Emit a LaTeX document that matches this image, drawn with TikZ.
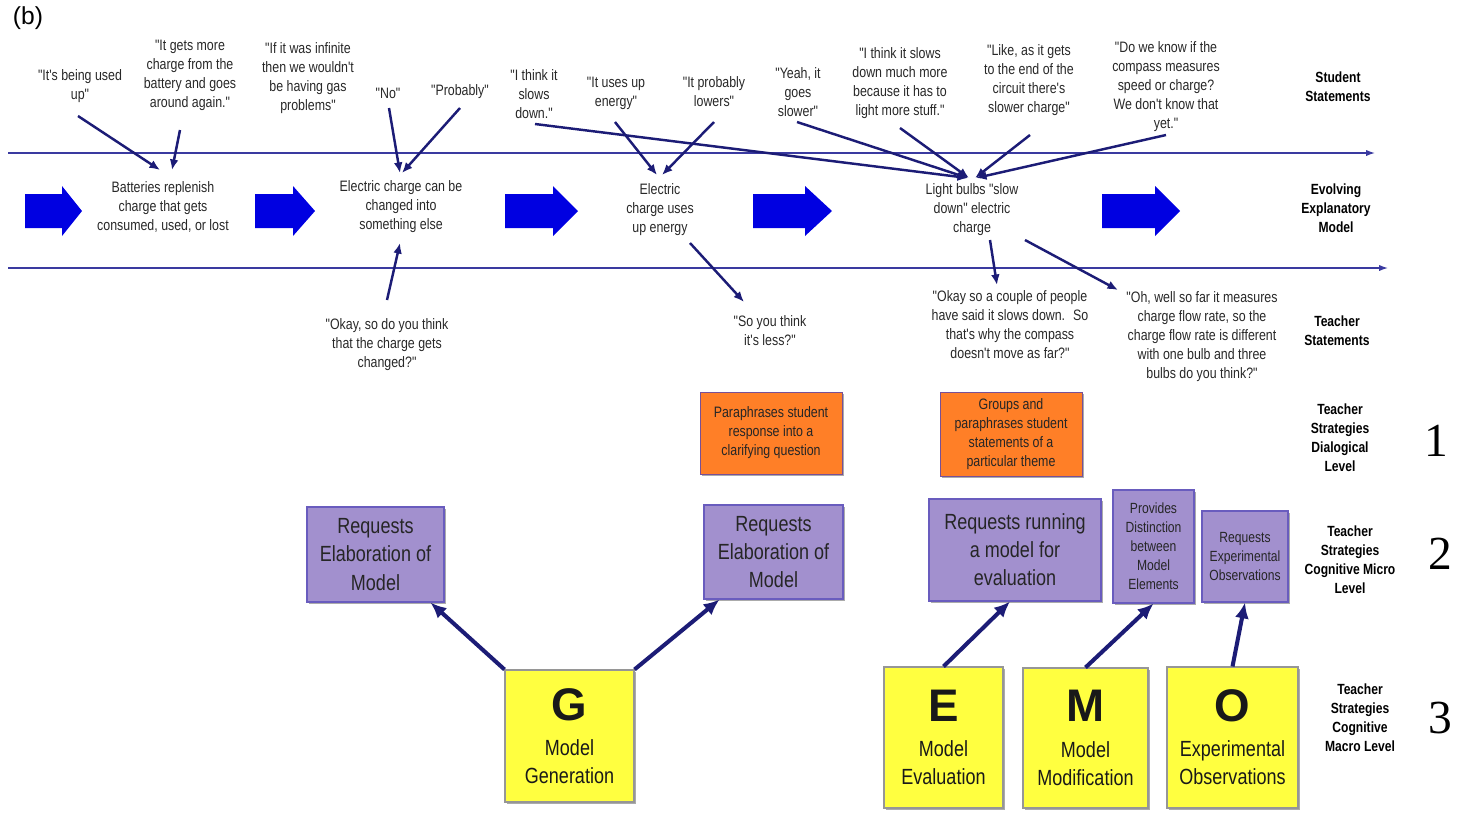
\documentclass[tikz,border=0pt]{standalone}
\usepackage{fontspec}
\setmainfont{Liberation Sans}[FakeStretch=0.82,Ligatures=TeXOff]
\newfontfamily\plainsans{Liberation Sans}
\newfontfamily\numfont{Liberation Serif}
\usetikzlibrary{calc,arrows.meta,shadows}

\definecolor{linenavy}{RGB}{58,58,160}
\definecolor{arrownavy}{RGB}{28,28,118}
\definecolor{bigblue}{RGB}{0,0,225}
\definecolor{boxorange}{RGB}{255,127,39}
\definecolor{orangeedge}{RGB}{120,80,150}
\definecolor{boxpurple}{RGB}{162,144,206}
\definecolor{purpleedge}{RGB}{105,92,190}
\definecolor{boxyellow}{RGB}{255,255,64}
\definecolor{yellowedge}{RGB}{150,150,150}
\definecolor{txtgray}{RGB}{40,40,40}

\begin{document}
\begin{tikzpicture}[x=0.02cm,y=-0.02cm,
  stmt/.style={align=center,inner sep=0pt,text=txtgray,font=\fontsize{8.6}{10.8}\selectfont},
  sidelabel/.style={align=center,inner sep=0pt,font=\fontsize{8.4}{10.8}\selectfont\bfseries},
  levelnum/.style={inner sep=0pt,font=\numfont\fontsize{27}{27}\selectfont},
  talk/.style={draw=arrownavy,line width=1.4pt,-{Latex[length=6pt,width=5pt]}},
  strat/.style={draw=arrownavy,line width=2.3pt,-{Latex[length=9pt,width=8pt]}},
  timeline/.style={draw=linenavy,line width=0.7pt,-{Latex[length=5pt,width=3.5pt]}},
  boxshadow/.style={drop shadow={shadow xshift=1.3pt,shadow yshift=-1.3pt,opacity=0.6,fill=black!55}},
  orangebox/.style={boxshadow,draw=orangeedge,fill=boxorange,line width=0.5pt,align=center,inner sep=0pt,
    text=black!85,font=\fontsize{8.6}{10.8}\selectfont},
  purplebox/.style={boxshadow,draw=purpleedge,fill=boxpurple,line width=0.6pt,align=center,inner sep=0pt,
    text=black!85,font=\fontsize{12.5}{16}\selectfont},
  smallpurple/.style={purplebox,font=\fontsize{8.4}{10.8}\selectfont},
  yellowbox/.style={boxshadow,draw=yellowedge,fill=boxyellow,line width=0.6pt,align=center,inner sep=0pt,
    text=black!90,font=\fontsize{12.5}{16}\selectfont}]

\useasboundingbox (0,0) rectangle (1465,816);

\node[inner sep=0pt,font=\plainsans\fontsize{14}{14}\selectfont] (tag) at (28,18) {(b)};

\draw[timeline] (8,153) -- (1375,153);
\draw[timeline] (8,268) -- (1388,268);

\foreach \a/\b/\c in {25/62/82,255/293/315,505/553/578,753/805/832,1102/1155/1180}
  \fill[bigblue] (\a,194) -- (\b,194) -- (\b,186) -- (\c,211) -- (\b,236) -- (\b,228) -- (\a,228) -- cycle;

\node[stmt] (s1) at (80,86) {"It's being used\\up"};
\node[stmt] (s2) at (190,75) {"It gets more\\charge from the\\battery and goes\\around again."};
\node[stmt] (s3) at (308,78) {"If it was infinite\\then we wouldn't\\be having gas\\problems"};
\node[stmt] (s4) at (388,93) {"No"};
\node[stmt] (s5) at (460,92) {"Probably"};
\node[stmt] (s6) at (534,94) {"I think it\\slows\\down."};
\node[stmt] (s7) at (616,93) {"It uses up\\energy"};
\node[stmt] (s8) at (714,92) {"It probably\\lowers"};
\node[stmt] (s9) at (798,92) {"Yeah, it\\goes\\slower"};
\node[stmt] (s10) at (900,83) {"I think it slows\\down much more\\because it has to\\light more stuff."};
\node[stmt] (s11) at (1029,80) {"Like, as it gets\\to the end of the\\circuit there's\\slower charge"};
\node[stmt] (s12) at (1166,87) {"Do we know if the\\compass measures\\speed or charge?\\We don't know that\\yet."};

\node[stmt] (m1) at (163,207) {Batteries replenish\\charge that gets\\consumed, used, or lost};
\node[stmt] (m2) at (401,207) {Electric charge can be\\changed into\\something else};
\node[stmt] (m3) at (660,210) {Electric\\charge uses\\up energy};
\node[stmt] (m4) at (972,210) {Light bulbs "slow\\down" electric\\charge};

\node[stmt] (t1) at (387,345) {"Okay, so do you think\\that the charge gets\\changed?"};
\node[stmt] (t2) at (770,331) {"So you think\\it's less?"};
\node[stmt] (t3) at (1010,325) {"Okay so a couple of people\\have said it slows down.~ So\\that's why the compass\\doesn't move as far?"};
\node[stmt] (t4) at (1202,337) {"Oh, well so far it measures\\charge flow rate, so the\\charge flow rate is different\\with one bulb and three\\bulbs do you think?"};

\draw[talk] ($(s1)+(-2,30)$) -- ($(m1)+(-3,-37)$);
\draw[talk] ($(s2)+(-10,55)$) -- ($(m1)+(9,-37)$);
\draw[talk] ($(s4)+(1,15)$) -- ($(m2)+(-1,-34)$);
\draw[talk] ($(s5)+(0,16)$) -- ($(m2)+(1,-34)$);
\draw[talk] ($(t1)+(0,-45)$) -- ($(m2)+(-1,36)$);
\draw[talk] ($(s6)+(1,30)$) -- ($(m4)+(-4,-32)$);
\draw[talk] ($(s7)+(-1,29)$) -- ($(m3)+(-3,-35)$);
\draw[talk] ($(s8)+(0,30)$) -- ($(m3)+(2,-35)$);
\draw[talk] ($(m3)+(30,33)$) -- ($(t2)+(-26,-29)$);
\draw[talk] ($(s9)+(-1,30)$) -- ($(m4)+(-4,-32)$);
\draw[talk] ($(s10)+(0,45)$) -- ($(m4)+(-3,-32)$);
\draw[talk] ($(s11)+(1,55)$) -- ($(m4)+(3,-32)$);
\draw[talk] ($(s12)+(0,48)$) -- ($(m4)+(4,-32)$);
\draw[talk] ($(m4)+(18,30)$) -- ($(t3)+(-13,-40)$);
\draw[talk] ($(m4)+(53,30)$) -- ($(t4)+(-84,-47)$);

\node[orangebox,minimum width=2.84cm,minimum height=1.64cm] (o1) at (771,433) {Paraphrases student\\response into a\\clarifying question};
\node[orangebox,minimum width=2.84cm,minimum height=1.68cm] (o2) at (1011,434) {Groups and\\paraphrases student\\statements of a\\particular theme};

\node[purplebox,minimum width=2.74cm,minimum height=1.90cm] (p1) at (375.5,554.5) {Requests\\Elaboration of\\Model};
\node[purplebox,minimum width=2.78cm,minimum height=1.88cm] (p2) at (773.5,552) {Requests\\Elaboration of\\Model};
\node[purplebox,minimum width=3.44cm,minimum height=2.04cm] (p3) at (1015,550) {Requests running\\a model for\\evaluation};
\node[smallpurple,minimum width=1.62cm,minimum height=2.26cm] (p4) at (1153.5,546.5) {Provides\\Distinction\\between\\Model\\Elements};
\node[smallpurple,minimum width=1.72cm,minimum height=1.82cm] (p5) at (1245,556.5) {Requests\\Experimental\\Observations};

\node[yellowbox,minimum width=2.58cm,minimum height=2.64cm] (g) at (569.5,736) {{\plainsans\fontsize{26}{26}\selectfont\bfseries G}\\[4pt]Model\\Generation};
\node[yellowbox,minimum width=2.38cm,minimum height=2.82cm] (e) at (943.5,737.5) {{\plainsans\fontsize{26}{26}\selectfont\bfseries E}\\[4pt]Model\\Evaluation};
\node[yellowbox,minimum width=2.50cm,minimum height=2.80cm] (m) at (1085.5,738) {{\plainsans\fontsize{26}{26}\selectfont\bfseries M}\\[4pt]Model\\Modification};
\node[yellowbox,minimum width=2.62cm,minimum height=2.82cm] (o) at (1232.5,737.5) {{\plainsans\fontsize{26}{26}\selectfont\bfseries O}\\[4pt]Experimental\\Observations};

\draw[strat] (g.north west) -- ($(p1.south east)+(-14,0)$);
\draw[strat] (g.north east) -- ($(p2.south west)+(16,0)$);
\draw[strat] (e.north) -- ($(p3.south)+(-5,0)$);
\draw[strat] (m.north) -- (p4.south);
\draw[strat] (o.north) -- (p5.south);

\node[sidelabel] (lstudent) at (1338,87) {Student\\Statements};
\node[sidelabel] (lmodel) at (1336,208) {Evolving\\Explanatory\\Model};
\node[sidelabel] (lteacher) at (1337,331) {Teacher\\Statements};
\node[sidelabel] (ldialog) at (1340,438) {Teacher\\Strategies\\Dialogical\\Level};
\node[sidelabel] (lmicro) at (1350,560) {Teacher\\Strategies\\Cognitive Micro\\Level};
\node[sidelabel] (lmacro) at (1360,718) {Teacher\\Strategies\\Cognitive\\Macro Level};

\node[levelnum] (n1) at (1436,441) {1};
\node[levelnum] (n2) at (1440,554) {2};
\node[levelnum] (n3) at (1440,718) {3};
\end{tikzpicture}
\end{document}
